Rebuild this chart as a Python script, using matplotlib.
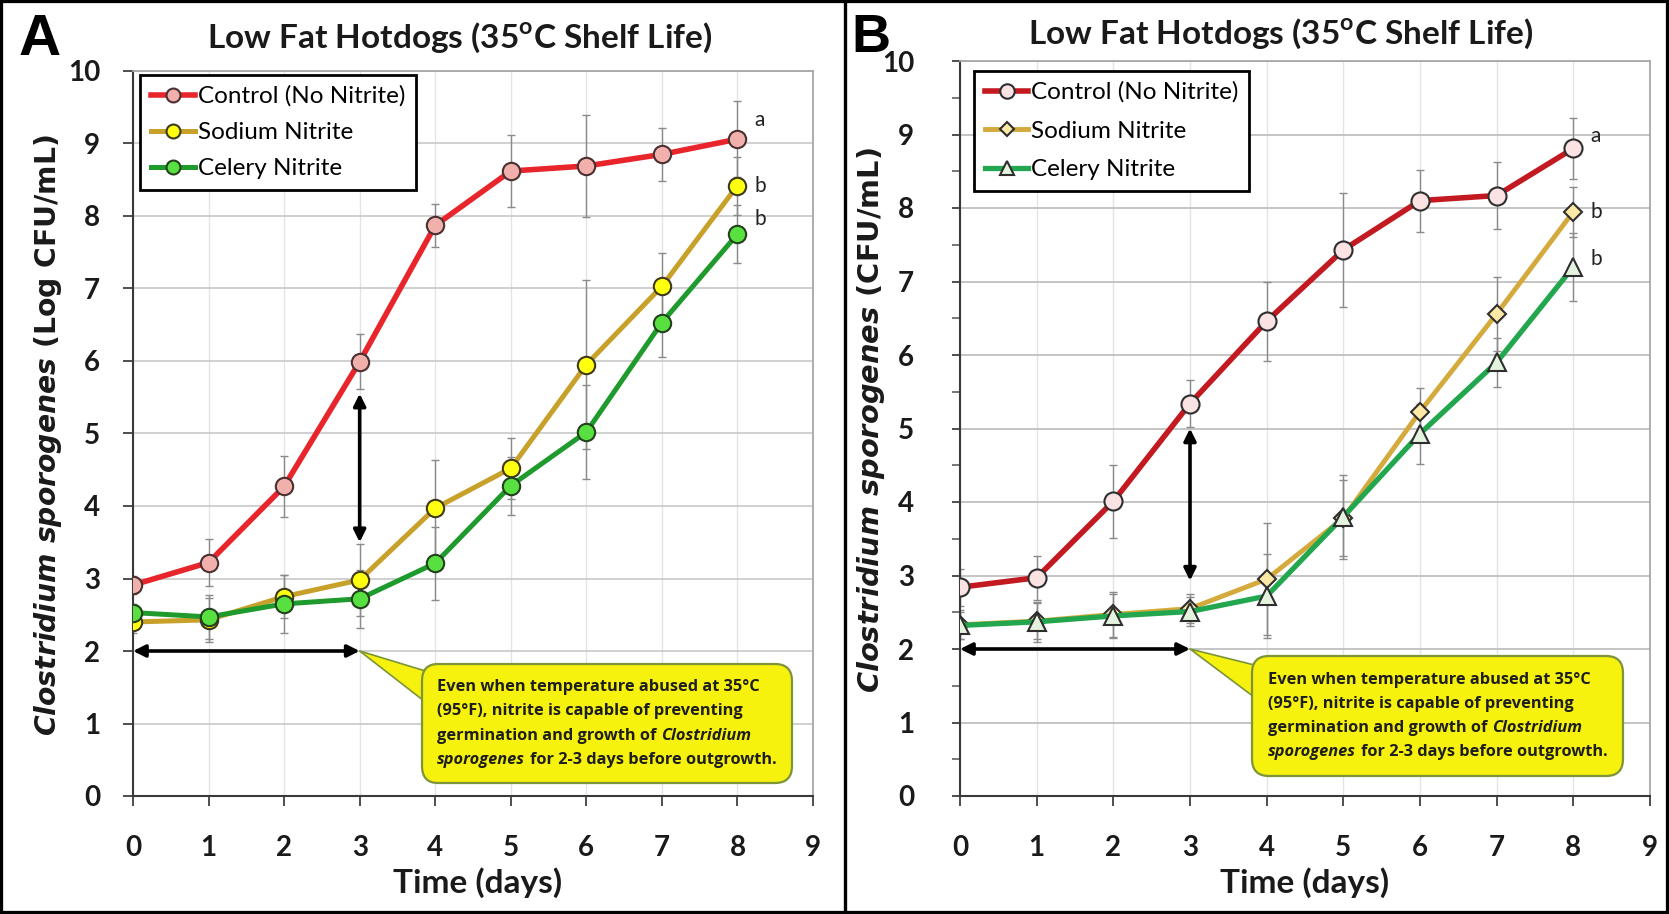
import matplotlib
matplotlib.use("Agg")
import matplotlib.pyplot as plt
from matplotlib.ticker import MultipleLocator
from matplotlib.offsetbox import TextArea, HPacker, VPacker, AnnotationBbox
from matplotlib.lines import Line2D
from matplotlib.patches import Rectangle

plt.rcParams['mathtext.fontset'] = 'custom'
plt.rcParams['mathtext.it'] = 'DejaVu Sans:italic:bold'
plt.rcParams['mathtext.rm'] = 'DejaVu Sans:bold'
plt.rcParams['mathtext.bf'] = 'DejaVu Sans:bold'

# ---------------- data ----------------
days = [0, 1, 2, 3, 4, 5, 6, 7, 8]
series_names = ["Control (No Nitrite)", "Sodium Nitrite", "Celery Nitrite"]

A_control = [2.91, 3.22, 4.27, 5.99, 7.87, 8.62, 8.69, 8.85, 9.06]
A_control_err = [0.12, 0.33, 0.42, 0.38, 0.30, 0.50, 0.70, 0.37, 0.52]
A_sodium = [2.40, 2.43, 2.75, 2.98, 3.97, 4.52, 5.95, 7.03, 8.42]
A_sodium_err = [0.15, 0.30, 0.30, 0.50, 0.66, 0.42, 1.17, 0.46, 0.40]
A_celery = [2.53, 2.47, 2.65, 2.72, 3.21, 4.28, 5.02, 6.53, 7.75]
A_celery_err = [0.12, 0.30, 0.40, 0.40, 0.50, 0.40, 0.65, 0.48, 0.40]

B_control = [2.84, 2.97, 4.01, 5.34, 6.46, 7.43, 8.10, 8.17, 8.81]
B_control_err = [0.25, 0.30, 0.50, 0.32, 0.54, 0.78, 0.42, 0.45, 0.42]
B_sodium = [2.33, 2.38, 2.47, 2.55, 2.95, 3.78, 5.23, 6.56, 7.95]
B_sodium_err = [0.20, 0.25, 0.30, 0.20, 0.76, 0.52, 0.32, 0.50, 0.34]
B_celery = [2.32, 2.37, 2.45, 2.51, 2.72, 3.80, 4.93, 5.90, 7.20]
B_celery_err = [0.18, 0.27, 0.30, 0.20, 0.57, 0.57, 0.41, 0.33, 0.46]

sig_letters = ["a", "b", "b"]
title_text = "Low Fat Hotdogs (35$^{\\mathregular{o}}$C Shelf Life)"
xlabel_text = "Time (days)"
ylabel_A = "$\\mathit{Clostridium\\ sporogenes}$ (Log CFU/mL)"
ylabel_B = "$\\mathit{Clostridium\\ sporogenes}$ (CFU/mL)"
callout_lines = [
    [("Even when temperature abused at 35\u00b0C", False)],
    [("(95\u00b0F), nitrite is capable of preventing", False)],
    [("germination and growth of", False), ("Clostridium", True)],
    [("sporogenes", True), ("for 2-3 days before outgrowth.", False)],
]

# ---------------- figure ----------------
W, H = 1669, 914
fig = plt.figure(figsize=(W / 100, H / 100), dpi=100)
fig.patch.set_facecolor("white")

axA = fig.add_axes([133 / W, 1 - 796 / H, (813 - 133) / W, (796 - 71) / H])
axB = fig.add_axes([960 / W, 1 - 796 / H, (1650 - 960) / W, (796 - 61) / H])

TXT = "Lato"
CALLOUT_FONT = "Open Sans"
YELLOW = '#f6f20e'
BOX_EDGE = '#7d9438'


def draw_panel(ax, data, styles, minor, letter_offsets, varrow, box_center,
               wedge_start, ypad, ytick_len, leg_anchor, leg_spacing):
    ax.set_xlim(0, 9)
    ax.set_ylim(0, 10)
    ax.set_xticks(range(0, 10))
    ax.set_yticks(range(0, 11))
    if minor:
        ax.yaxis.set_minor_locator(MultipleLocator(0.5))
        ax.tick_params(axis='y', which='minor', direction='out', length=ytick_len,
                       width=1.2, color='#606060')
    ax.grid(axis='y', which='major', color='#c4c4c4', lw=1.4 if minor else 1.1)
    ax.grid(axis='x', which='major', color='#e4e4e4', lw=1.0)
    ax.set_axisbelow(True)
    for sp in ['left', 'bottom']:
        ax.spines[sp].set_color('#3a3a3a')
        ax.spines[sp].set_linewidth(1.5)
    for sp in ['top', 'right']:
        ax.spines[sp].set_color('#a8a8a8')
        ax.spines[sp].set_linewidth(1.3)
    ax.tick_params(axis='x', which='major', direction='out', length=7, width=1.3,
                   color='#404040', pad=21)
    ax.tick_params(axis='y', which='major', direction='out', length=ytick_len,
                   width=1.3, color='#404040', pad=ypad)
    for lab in ax.get_xticklabels() + ax.get_yticklabels():
        lab.set_fontfamily(TXT)
        lab.set_fontweight('bold')
        lab.set_fontsize(20)
        lab.set_color('#1a1a1a')

    for (vals, err), st, name in zip(data, styles, series_names):
        ax.errorbar(days, vals, yerr=err, fmt='none', ecolor='#8a8a8a',
                    elinewidth=1.0, capsize=3, capthick=1.0, zorder=2)
        ax.plot(days, vals, color=st['line'], lw=st['lw'], marker=st['marker'],
                ms=st['ms'], mfc=st['face'], mec=st['edge'], mew=1.5,
                zorder=3, label=name)

    for (vals, _), let, off in zip(data, sig_letters, letter_offsets):
        ax.text(days[-1] + 0.22, vals[-1] + off, let, fontfamily=TXT,
                fontsize=15, ha='left', va='center', color='#222222')

    leg = ax.legend(loc='upper left', bbox_to_anchor=leg_anchor,
                    prop=dict(family=TXT, size=17.5), frameon=True, fancybox=False,
                    edgecolor='black', framealpha=1, handlelength=1.8,
                    handletextpad=0.1, labelspacing=leg_spacing, borderpad=0.45,
                    borderaxespad=0.0, markerscale=0.8)
    leg.get_frame().set_linewidth(2.0)

    arrow_kw = dict(arrowstyle='<|-|>', color='black', lw=2.6,
                    mutation_scale=18, shrinkA=0, shrinkB=0)
    ax.annotate('', xy=(3, varrow[1]), xytext=(3, varrow[0]),
                arrowprops=arrow_kw, zorder=5)
    ax.annotate('', xy=(0, 2), xytext=(3, 2), arrowprops=arrow_kw, zorder=5)

    # callout pointer (drawn beneath the box)
    ax.annotate('', xy=(3, 2), xytext=wedge_start,
                arrowprops=dict(arrowstyle='wedge,tail_width=2.6,shrink_factor=0.5',
                                fc=YELLOW, ec=BOX_EDGE, lw=1.2,
                                shrinkA=0, shrinkB=0),
                zorder=5.5)

    rows = []
    for line in callout_lines:
        parts = []
        for txt, ital in line:
            parts.append(TextArea(txt, textprops=dict(
                family=CALLOUT_FONT, weight='bold', size=11.8, color='#1e1e1e',
                style='italic' if ital else 'normal')))
        rows.append(HPacker(children=parts, align='baseline', pad=0, sep=3.4))
    vbox = VPacker(children=rows, align='left', pad=0, sep=5.8)
    ab = AnnotationBbox(
        vbox, box_center, xycoords='data', box_alignment=(0.5, 0.5),
        fontsize=10, pad=0,
        bboxprops=dict(boxstyle='round,pad=1.12,rounding_size=1.2',
                       fc=YELLOW, ec=BOX_EDGE, lw=1.6),
        zorder=6)
    ax.add_artist(ab)


styles_A = [
    dict(line='#e8252b', face='#f2b0ac', edge='#4a3030', marker='o', ms=12.5, lw=4.0),
    dict(line='#c8a12a', face='#ffff10', edge='#3e3a18', marker='o', ms=12.5, lw=3.6),
    dict(line='#1f9a2c', face='#58e040', edge='#24401e', marker='o', ms=12.5, lw=3.6),
]
styles_B = [
    dict(line='#c21a20', face='#fbe3e3', edge='#2e2e2e', marker='o', ms=13, lw=4.0),
    dict(line='#d5aa3c', face='#fce9a6', edge='#2e2e2e', marker='D', ms=9.5, lw=3.5),
    dict(line='#22a64e', face='#e4f3de', edge='#2e2e2e', marker='^', ms=13, lw=3.8),
]

draw_panel(axA,
           [(A_control, A_control_err), (A_sodium, A_sodium_err), (A_celery, A_celery_err)],
           styles_A, False, [0.26, 0.0, 0.21], (5.55, 3.5), (6.27, 1.0),
           (4.15, 1.38), 16.5, 7, (0.011, 0.995), 0.62)
draw_panel(axB,
           [(B_control, B_control_err), (B_sodium, B_sodium_err), (B_celery, B_celery_err)],
           styles_B, True, [0.17, 0.0, 0.1], (5.0, 2.93), (6.23, 1.09),
           (4.05, 1.48), 27, 6, (0.02, 0.987), 0.72)

# titles, axis labels, panel letters
fig.text(460 / W, 1 - 38 / H, title_text, family=TXT, weight='bold', fontsize=24,
         ha='center', va='center', color='#1a1a1a')
fig.text(1281 / W, 1 - 34 / H, title_text, family=TXT, weight='bold', fontsize=24,
         ha='center', va='center', color='#1a1a1a')
fig.text(478 / W, 1 - 883 / H, xlabel_text, family=TXT, weight='bold', fontsize=24,
         ha='center', va='center', color='#1a1a1a')
fig.text(1305 / W, 1 - 883 / H, xlabel_text, family=TXT, weight='bold', fontsize=24,
         ha='center', va='center', color='#1a1a1a')
fig.text(48 / W, 1 - 435 / H, ylabel_A, family='DejaVu Sans', weight='bold',
         fontsize=20.3, rotation=90, ha='center', va='center', color='#1a1a1a')
fig.text(871 / W, 1 - 420 / H, ylabel_B, family='DejaVu Sans', weight='bold',
         fontsize=20.8, rotation=90, ha='center', va='center', color='#1a1a1a')
fig.text(19 / W, 1 - 40 / H, "A", family='Liberation Sans', weight='bold',
         fontsize=42, ha='left', va='center', color='black')
fig.text(851 / W, 1 - 38 / H, "B", family='Liberation Sans', weight='bold',
         fontsize=39, ha='left', va='center', color='black')

# frame and divider
fig.add_artist(Rectangle((0, 0), 1, 1, transform=fig.transFigure, fill=False,
                         ec='black', lw=4.5))
fig.add_artist(Line2D([845 / W, 845 / W], [0, 1], transform=fig.transFigure,
                      color='black', lw=2.4))

fig.savefig("out.png", dpi=100)
